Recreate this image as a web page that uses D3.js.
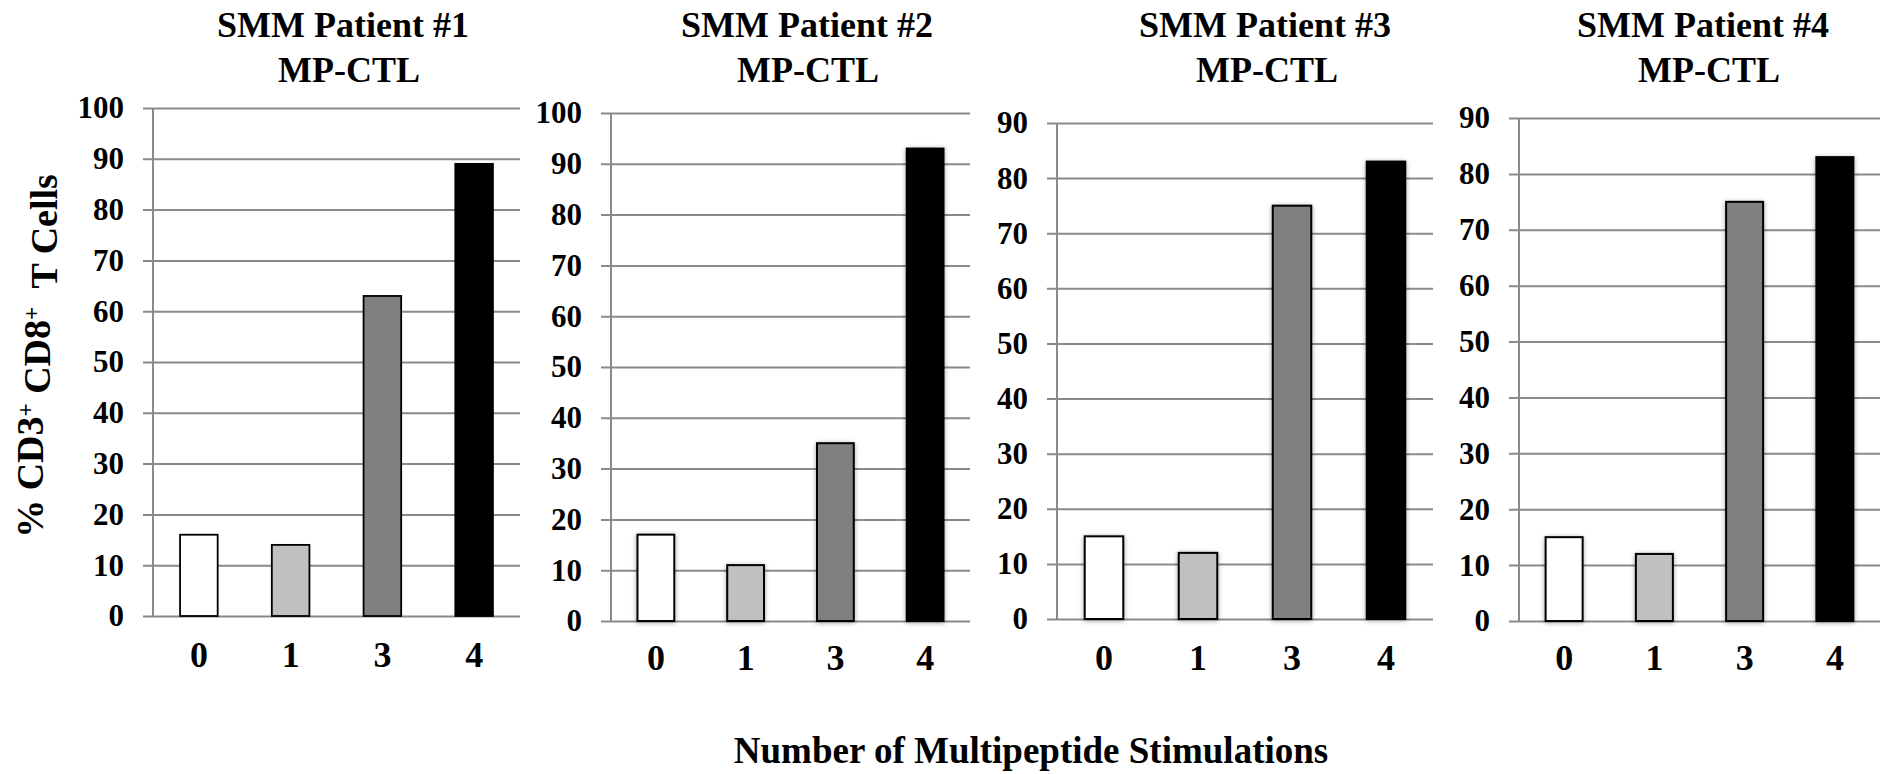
<!DOCTYPE html>
<html>
<head>
<meta charset="utf-8">
<script src="https://cdn.jsdelivr.net/npm/d3@7"></script>
<style>
  body { margin: 0; background: #fff; }
  svg text { font-family: "Liberation Serif", "Times New Roman", serif; font-weight: bold; fill: #000; }
</style>
</head>
<body>
<div id="chart"></div>
<script>
// data
var categories = ["0", "1", "3", "4"]
var titleLine1 = ["SMM Patient #1", "SMM Patient #2", "SMM Patient #3", "SMM Patient #4"]
var titleLine2 = ["MP-CTL", "MP-CTL", "MP-CTL", "MP-CTL"]
var patient1 = [16, 14, 63, 89]
var patient2 = [17, 11, 35, 93]
var patient3 = [15, 12, 75, 83]
var patient4 = [15, 12, 75, 83]
var yMax = [100, 100, 90, 90]
var barFills = ["#ffffff", "#c0c0c0", "#808080", "#000000"]

var allValues = [patient1, patient2, patient3, patient4]

// where each small panel sits on the page
var layout = [
  {left: 153, right: 520, bottom: 616, top: 108, t1: 343, t2: 349, catY: 667, shadow: false},
  {left: 611, right: 970, bottom: 621, top: 113, t1: 807, t2: 808, catY: 670, shadow: true},
  {left: 1057, right: 1433, bottom: 619, top: 123, t1: 1265, t2: 1267, catY: 670, shadow: true},
  {left: 1519, right: 1880, bottom: 621, top: 118, t1: 1703, t2: 1709, catY: 670, shadow: true}
]

var width = 1887
var height = 774
var gridColor = "#8a8a8a"

var svg = d3.select("#chart")
  .append("svg")
  .attr("width", width)
  .attr("height", height)

// soft shadow like the office export
var defs = svg.append("defs")
defs.append("filter")
  .attr("id", "barShadow")
  .attr("x", "-30%").attr("y", "-10%")
  .attr("width", "160%").attr("height", "120%")
  .append("feDropShadow")
  .attr("dx", 0).attr("dy", 1)
  .attr("stdDeviation", 2.5)
  .attr("flood-color", "#000")
  .attr("flood-opacity", 0.35)

layout.forEach(function(L, i){
  var values = allValues[i]

  var x = d3.scaleBand()
    .domain(categories)
    .range([L.left, L.right])
    .paddingInner(0.59)
    .paddingOuter(0.295)

  var y = d3.scaleLinear()
    .domain([0, yMax[i]])
    .range([L.bottom, L.top])

  var g = svg.append("g").attr("class", "panel")

  // gridlines + tick labels
  var yAxis = d3.axisLeft(y)
    .ticks(yMax[i] / 10)
    .tickSize(-(L.right - L.left + 10))
    .tickPadding(19)
    .tickFormat(d3.format("d"))

  g.append("g")
    .attr("class", "axis axis--y")
    .attr("transform", "translate(" + (L.left - 10) + ",0)")
    .call(yAxis)
    .call(function(a){ a.select(".domain").remove() })
    .call(function(a){
      a.selectAll("line").attr("stroke", gridColor).attr("stroke-width", 2)
      a.selectAll("text").style("font-size", "31px")
    })

  // vertical axis line
  g.append("line")
    .attr("x1", L.left).attr("x2", L.left)
    .attr("y1", y(0)).attr("y2", y(yMax[i]))
    .attr("stroke", gridColor)
    .attr("stroke-width", 2)

  // bars
  g.selectAll("rect.bar")
    .data(values)
    .enter()
    .append("rect")
    .attr("class", "bar")
    .attr("x", function(d, k){ return x(categories[k]) })
    .attr("width", x.bandwidth())
    .attr("y", function(d){ return y(d) })
    .attr("height", function(d){ return y(0) - y(d) })
    .attr("fill", function(d, k){ return barFills[k] })
    .attr("stroke", "#000")
    .attr("stroke-width", L.shadow ? 2 : 1.8)
    .attr("filter", L.shadow ? "url(#barShadow)" : null)

  // category labels
  g.selectAll("text.cat")
    .data(categories)
    .enter()
    .append("text")
    .attr("class", "cat")
    .attr("x", function(d){ return x(d) + x.bandwidth() / 2 })
    .attr("y", L.catY)
    .attr("text-anchor", "middle")
    .style("font-size", "36px")
    .text(function(d){ return d })

  // two line title
  g.append("text")
    .attr("x", L.t1).attr("y", 37)
    .attr("text-anchor", "middle")
    .style("font-size", "36px")
    .text(titleLine1[i])
  g.append("text")
    .attr("x", L.t2).attr("y", 82)
    .attr("text-anchor", "middle")
    .style("font-size", "36px")
    .text(titleLine2[i])
})

// y axis title with superscripts
var yTitle = svg.append("text")
  .attr("transform", "translate(43,356) rotate(-90)")
  .attr("text-anchor", "middle")
  .style("font-size", "38px")
yTitle.append("tspan").text("% CD3")
yTitle.append("tspan").attr("dy", "-0.45em").style("font-size", "23px").text("+")
yTitle.append("tspan").attr("dy", "0.45em").text(" CD8")
yTitle.append("tspan").attr("dy", "-0.45em").style("font-size", "23px").text("+")
yTitle.append("tspan").attr("dy", "0.45em").text("\u00a0 T Cells")

// x axis title
svg.append("text")
  .attr("x", 1031)
  .attr("y", 763)
  .attr("text-anchor", "middle")
  .style("font-size", "37px")
  .text("Number of Multipeptide Stimulations")
</script>
</body>
</html>
